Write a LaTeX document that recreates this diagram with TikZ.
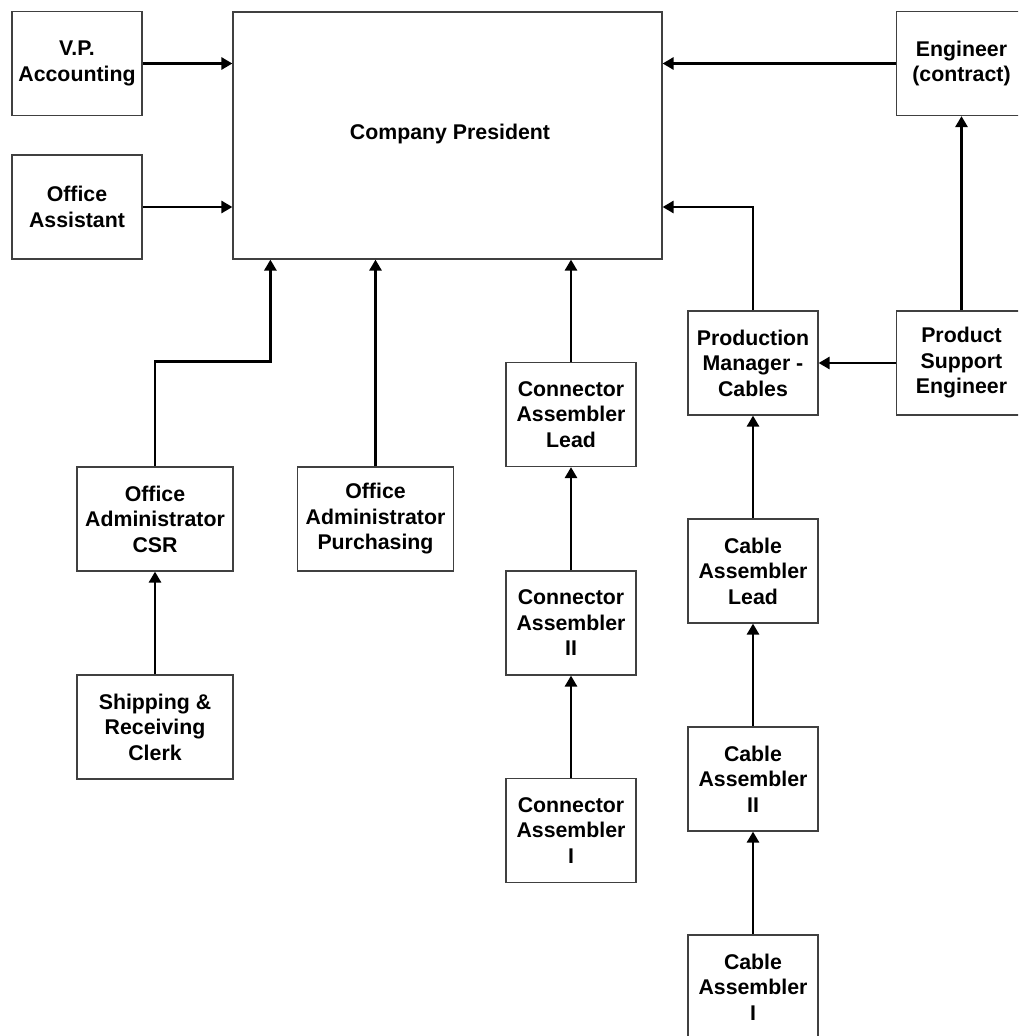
\documentclass[tikz,border=0pt]{standalone}
\usepackage{fontspec}
\setmainfont{Liberation Sans}
\usetikzlibrary{arrows.meta}
\begin{document}
\begin{tikzpicture}[x=1pt,y=-1pt,
  box/.style={draw=black!75, line width=1.2pt, fill=white, align=center,
    font=\fontsize{21.3}{25.5}\selectfont\bfseries, inner sep=0pt},
  sbox/.style={box, minimum width=130pt, minimum height=104pt},
  wbox/.style={box, minimum width=156pt, minimum height=104pt},
  link/.style={line width=2.8pt, -{Triangle[length=11pt,width=12pt]}}]
\useasboundingbox (0,0) rectangle (1018,1036);
\clip (0,0) rectangle (1018,1036);
\fill[white] (0,0) rectangle (1018,1036);

% top row
\node[sbox] (vp) at (77,63.5) {V.P.\\Accounting};
\node[sbox] (oa) at (77,207) {Office\\Assistant};
\node[box, minimum width=429pt, minimum height=247pt] (pres) at (447.5,135.5) {};
\node[font=\fontsize{21.3}{25.5}\selectfont\bfseries] (prestext) at (450,134) {Company President};
\node[sbox] (eng) at (961.5,63.5) {Engineer\\(contract)};

% office staff
\node[wbox] (csr) at (155,519) {Office\\Administrator\\CSR};
\node[wbox] (pur) at (375.5,519) {Office\\Administrator\\Purchasing};
\node[wbox] (ship) at (155,727) {Shipping \&\\Receiving\\Clerk};

% connector line
\node[sbox] (cal) at (571,414.5) {Connector\\Assembler\\Lead};
\node[sbox] (c2) at (571,623) {Connector\\Assembler\\II};
\node[sbox] (c1) at (571,830.5) {Connector\\Assembler\\I};

% cable line
\node[sbox] (pm) at (753,363) {Production\\Manager -\\Cables};
\node[sbox] (pse) at (961.5,363) {Product\\Support\\Engineer};
\node[sbox] (kl) at (753,571) {Cable\\Assembler\\Lead};
\node[sbox] (k2) at (753,779) {Cable\\Assembler\\II};
\node[sbox] (k1) at (753,987) {Cable\\Assembler\\I};

% reporting lines
\draw[link] (vp.east) -- (vp.east -| pres.west);
\draw[link] (oa.east) -- (oa.east -| pres.west);
\draw[link] (eng.west) -- (eng.west -| pres.east);
\draw[link] (pm.north) -- (pm.north |- oa.east) -- (pres.east |- oa.east);
\draw[link] (csr.north) -- ++(0,-105) -| ([xshift=38pt]pres.south west);
\draw[link] (pur.north) -- (pur.north |- pres.south);
\draw[link] (cal.north) -- (cal.north |- pres.south);
\draw[link] (pse.west) -- (pm.east);
\draw[link] (pse.north) -- (eng.south);
\draw[link] (ship.north) -- (csr.south);
\draw[link] (c1.north) -- (c2.south);
\draw[link] (c2.north) -- (cal.south);
\draw[link] (k1.north) -- (k2.south);
\draw[link] (k2.north) -- (kl.south);
\draw[link] (kl.north) -- (pm.south);
\end{tikzpicture}
\end{document}
